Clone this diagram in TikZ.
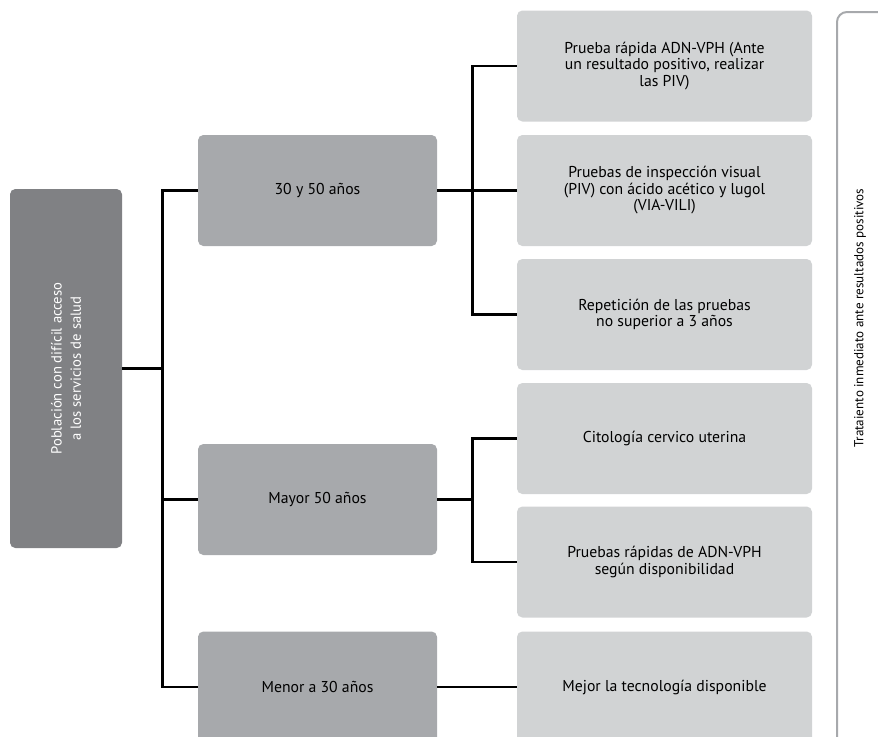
\documentclass[tikz,border=0pt]{standalone}
\usepackage{fontspec}
\setmainfont{PT Sans}
\usepackage{tikz}

\definecolor{gdark}{HTML}{808184}
\definecolor{gmid}{HTML}{A7A9AC}
\definecolor{glight}{HTML}{D1D3D4}

\begin{document}
\begin{tikzpicture}[x=0.75pt,y=-0.75pt]
\tikzset{box/.style={rounded corners=4pt,inner sep=0pt,align=center,font=\fontsize{11.8pt}{12.4pt}\selectfont},
r/.style={box,fill=gdark,text=white,rotate=90,minimum width=269.25pt,minimum height=84pt,font=\fontsize{11pt}{14.5pt}\selectfont},
a/.style={box,fill=gmid,minimum width=179.25pt,minimum height=83.25pt},
b/.style={box,fill=glight,minimum width=221.25pt,minimum height=83.25pt},
e/.style={line width=2pt,black}}

\useasboundingbox (0,0) rectangle (878,736);

\path (66,368.5) node[r] (r) {Población con difícil acceso\\a los servicios de salud};
\path (317.5,190.5) node[a] (a0) {30 y 50 años};
\path (317.5,499.5) node[a] (a1) {Mayor 50 años};
\path (317.5,687) node[a] (a2) {Menor a 30 años};
\path (664.5,66) node[b] (b0) {Prueba rápida ADN-VPH (Ante\\un resultado positivo, realizar\\las PIV)};
\path (664.5,190.5) node[b] (b1) {Pruebas de inspección visual\\(PIV) con ácido acético y lugol\\(VIA-VILI)};
\path (664.5,314.5) node[b] (b2) {Repetición de las pruebas\\no superior a 3 años};
\path (664.5,438.5) node[b] (b3) {Citología cervico uterina};
\path (664.5,562) node[b] (b4) {Pruebas rápidas de ADN-VPH\\según disponibilidad};
\path (664.5,687) node[b] (b5) {Mejor la tecnología disponible};
\path (860,318) node[rotate=90,font=\fontsize{9.8pt}{11pt}\selectfont] (t) {Trataiento inmediato ante resultados positivos};

\draw[e] (r.south) -- ++(40,0) |- (a0.west);
\draw[e] (r.south) -- ++(40,0) |- (a1.west);
\draw[e] (r.south) -- ++(40,0) |- (a2.west);
\draw[e] (a0.east) -- ++(35,0) |- (b0.west);
\draw[e] (a0.east) -- ++(35,0) |- (b1.west);
\draw[e] (a0.east) -- ++(35,0) |- (b2.west);
\draw[e] (a1.east) -- ++(35,0) |- (b3.west);
\draw[e] (a1.east) -- ++(35,0) |- (b4.west);
\draw[e] (a2.east) -- (b5.west);
\draw[gmid,line width=1.5pt,rounded corners=7.5pt] (880,12) -| (837,740);
\end{tikzpicture}
\end{document}
